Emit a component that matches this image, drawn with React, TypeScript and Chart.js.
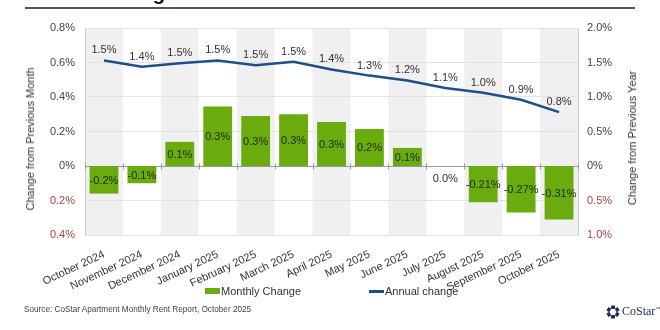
import React, { useEffect, useRef } from "react";
import { Chart, registerables } from "chart.js";

Chart.register(...registerables);

const categories = [
  "October 2024", "November 2024", "December 2024", "January 2025", "February 2025",
  "March 2025", "April 2025", "May 2025", "June 2025", "July 2025",
  "August 2025", "September 2025", "October 2025",
];
const monthlyChange = [-0.16, -0.1, 0.14, 0.345, 0.29, 0.3, 0.255, 0.215, 0.105, 0, -0.21, -0.27, -0.31];
const monthlyLabels = ["-0.2%", "-0.1%", "0.1%", "0.3%", "0.3%", "0.3%", "0.3%", "0.2%", "0.1%", "0.0%", "-0.21%", "-0.27%", "-0.31%"];
const annualChange = [1.53, 1.44, 1.49, 1.53, 1.46, 1.51, 1.4, 1.31, 1.24, 1.13, 1.06, 0.96, 0.78];
const annualLabels = ["1.5%", "1.4%", "1.5%", "1.5%", "1.5%", "1.5%", "1.4%", "1.3%", "1.2%", "1.1%", "1.0%", "0.9%", "0.8%"];
const leftAxisRange = [-0.4, 0.8];
const leftAxisStep = 0.2;
const rightAxisRange = [-1.0, 2.0];
const rightAxisStep = 0.5;

const FONT = "'Liberation Sans', Arial, sans-serif";
const GREEN = "#6aab0e";
const NAVY = "#1f4e8c";
const NEG_RED = "#a94442";
const TICK_GRAY = "#444";

const fmtLeft = (v: number) => (Math.abs(v) < 1e-9 ? "0%" : Math.abs(v).toFixed(1) + "%");
const fmtRight = (v: number) => (Math.abs(v) < 1e-9 ? "0%" : Math.abs(v).toFixed(1) + "%");

const bandsPlugin = {
  id: "bands",
  beforeDraw(chart: any) {
    const { ctx, chartArea } = chart;
    const x = chart.scales.x;
    const w = (chartArea.right - chartArea.left) / categories.length;
    ctx.save();
    ctx.fillStyle = "#f0f0f0";
    for (let i = 0; i < categories.length; i += 2) {
      const cx = x.getPixelForValue(i);
      ctx.fillRect(cx - w / 2, chartArea.top, w, chartArea.bottom - chartArea.top);
    }
    ctx.restore();
  },
  beforeDatasetsDraw(chart: any) {
    const { ctx, chartArea } = chart;
    const x = chart.scales.x;
    const y0 = Math.round(chart.scales.y.getPixelForValue(0)) + 0.5;
    const w = (chartArea.right - chartArea.left) / categories.length;
    ctx.save();
    ctx.strokeStyle = "#9a9a9a";
    ctx.lineWidth = 1;
    ctx.beginPath();
    ctx.moveTo(chartArea.left, y0);
    ctx.lineTo(chartArea.right, y0);
    for (let i = 0; i <= categories.length; i++) {
      const bx = Math.round(x.getPixelForValue(0) - w / 2 + i * w) + 0.5;
      ctx.moveTo(bx, y0 - 3);
      ctx.lineTo(bx, y0 + 3);
    }
    ctx.stroke();
    ctx.restore();
  },
  afterDatasetsDraw(chart: any) {
    const { ctx } = chart;
    const barMeta = chart.getDatasetMeta(1);
    const lineMeta = chart.getDatasetMeta(0);
    ctx.save();
    ctx.font = `11px ${FONT}`;
    ctx.textAlign = "center";
    ctx.textBaseline = "middle";
    barMeta.data.forEach((bar: any, i: number) => {
      const v = monthlyChange[i];
      let ty = (bar.y + bar.base) / 2;
      if (Math.abs(v) < 1e-9) ty = bar.base + 12;
      ctx.fillStyle = Math.abs(v) < 1e-9 ? "#333" : "#1d2a10";
      ctx.fillText(monthlyLabels[i], bar.x, ty + 1);
    });
    ctx.fillStyle = "#333";
    lineMeta.data.forEach((pt: any, i: number) => {
      ctx.fillText(annualLabels[i], pt.x, pt.y - 10);
    });
    ctx.restore();
  },
};

function ChartCanvas() {
  const ref = useRef<HTMLCanvasElement | null>(null);
  useEffect(() => {
    if (!ref.current) return;
    const chart = new Chart(ref.current, {
      type: "bar",
      data: {
        labels: categories,
        datasets: [
          {
            type: "line",
            label: "Annual change",
            data: annualChange,
            yAxisID: "y2",
            borderColor: NAVY,
            backgroundColor: NAVY,
            borderWidth: 2.5,
            pointRadius: 0,
            tension: 0,
            order: 0,
          } as any,
          {
            type: "bar",
            label: "Monthly Change",
            data: monthlyChange,
            yAxisID: "y",
            backgroundColor: GREEN,
            barPercentage: 0.76,
            categoryPercentage: 1,
            order: 1,
          },
        ],
      },
      options: {
        responsive: false,
        animation: false,
        devicePixelRatio: 1,
        layout: { padding: { top: 28, left: 0, right: 0, bottom: 0 } },
        plugins: { legend: { display: false }, tooltip: { enabled: false } },
        scales: {
          x: {
            grid: { display: false },
            border: { display: false },
            ticks: {
              minRotation: 25,
              maxRotation: 25,
              autoSkip: false,
              padding: 5,
              color: "#333",
              font: { family: FONT, size: 11 },
            },
            afterFit: (s: any) => { s.height = 55; },
          },
          y: {
            position: "left",
            min: leftAxisRange[0],
            max: leftAxisRange[1],
            grid: { color: "#e3e3e3", drawTicks: false },
            border: { display: true, color: "#c8c8c8" },
            ticks: {
              stepSize: leftAxisStep,
              padding: 10,
              callback: (v: any) => fmtLeft(Number(v)),
              color: (c: any) => (c.tick && c.tick.value < -1e-9 ? NEG_RED : TICK_GRAY),
              font: { family: FONT, size: 11 },
            },
            afterFit: (s: any) => { s.width = 85; },
          },
          y2: {
            position: "right",
            min: rightAxisRange[0],
            max: rightAxisRange[1],
            grid: { display: false, drawTicks: false },
            border: { display: true, color: "#d0d0d0" },
            ticks: {
              stepSize: rightAxisStep,
              padding: 9,
              callback: (v: any) => fmtRight(Number(v)),
              color: (c: any) => (c.tick && c.tick.value < -1e-9 ? NEG_RED : TICK_GRAY),
              font: { family: FONT, size: 11 },
            },
            afterFit: (s: any) => { s.width = 82; },
          },
        },
      },
      plugins: [bandsPlugin],
    } as any);
    return () => chart.destroy();
  }, []);
  return (
    <canvas
      ref={ref}
      width={660}
      height={290}
      style={{ position: "absolute", left: 0, top: 0, width: 660, height: 290 }}
    />
  );
}

function Logo() {
  const segs = [0, 60, 120, 180, 240, 300];
  return (
    <div style={{ position: "absolute", left: 606, top: 304, display: "flex", alignItems: "center" }}>
      <svg width="14" height="14" viewBox="-7 -7 14 14">
        {segs.map((a) => (
          <rect
            key={a}
            x={-2}
            y={-6.5}
            width={4}
            height={3.4}
            rx={0.6}
            fill="#1d2c5a"
            transform={`rotate(${a})`}
          />
        ))}
      </svg>
      <span
        style={{
          fontFamily: "'Liberation Serif', 'DejaVu Serif', serif",
          fontSize: 12,
          color: "#1d2c5a",
          marginLeft: 2,
        }}
      >
        CoStar<sup style={{ fontSize: 5 }}>™</sup>
      </span>
    </div>
  );
}

export default function App() {
  return (
    <div
      style={{
        position: "absolute",
        left: 0,
        top: 0,
        width: 660,
        height: 330,
        overflow: "hidden",
        background: "#fff",
        fontFamily: FONT,
      }}
    >
      <div
        style={{
          position: "absolute",
          left: 25,
          top: -17,
          fontSize: 20,
          lineHeight: "20px",
          fontWeight: "bold",
          color: "#111",
          whiteSpace: "nowrap",
        }}
      >
        National rent growth continues to decelerate
      </div>
      <div style={{ position: "absolute", left: 25, top: 7, width: 610, height: 2, background: "#555" }} />
      <ChartCanvas />
      <div
        style={{
          position: "absolute",
          left: 30,
          top: 139,
          transform: "translate(-50%, -50%) rotate(-90deg)",
          whiteSpace: "nowrap",
          fontSize: 11,
          color: "#333",
        }}
      >
        Change from Previous Month
      </div>
      <div
        style={{
          position: "absolute",
          left: 632,
          top: 138,
          transform: "translate(-50%, -50%) rotate(-90deg)",
          whiteSpace: "nowrap",
          fontSize: 11,
          color: "#333",
        }}
      >
        Change from Previous Year
      </div>
      <div style={{ position: "absolute", left: 205, top: 285, display: "flex", alignItems: "center", fontSize: 11, color: "#333" }}>
        <span style={{ display: "inline-block", width: 15, height: 6, background: GREEN, marginRight: 1 }} />
        Monthly Change
      </div>
      <div style={{ position: "absolute", left: 369, top: 285, display: "flex", alignItems: "center", fontSize: 11, color: "#333" }}>
        <span style={{ display: "inline-block", width: 15, height: 3, background: NAVY, marginRight: 1 }} />
        Annual change
      </div>
      <div style={{ position: "absolute", left: 24, top: 305, fontSize: 8.2, color: "#444", whiteSpace: "nowrap" }}>
        Source: CoStar Apartment Monthly Rent Report, October 2025
      </div>
      <Logo />
    </div>
  );
}
